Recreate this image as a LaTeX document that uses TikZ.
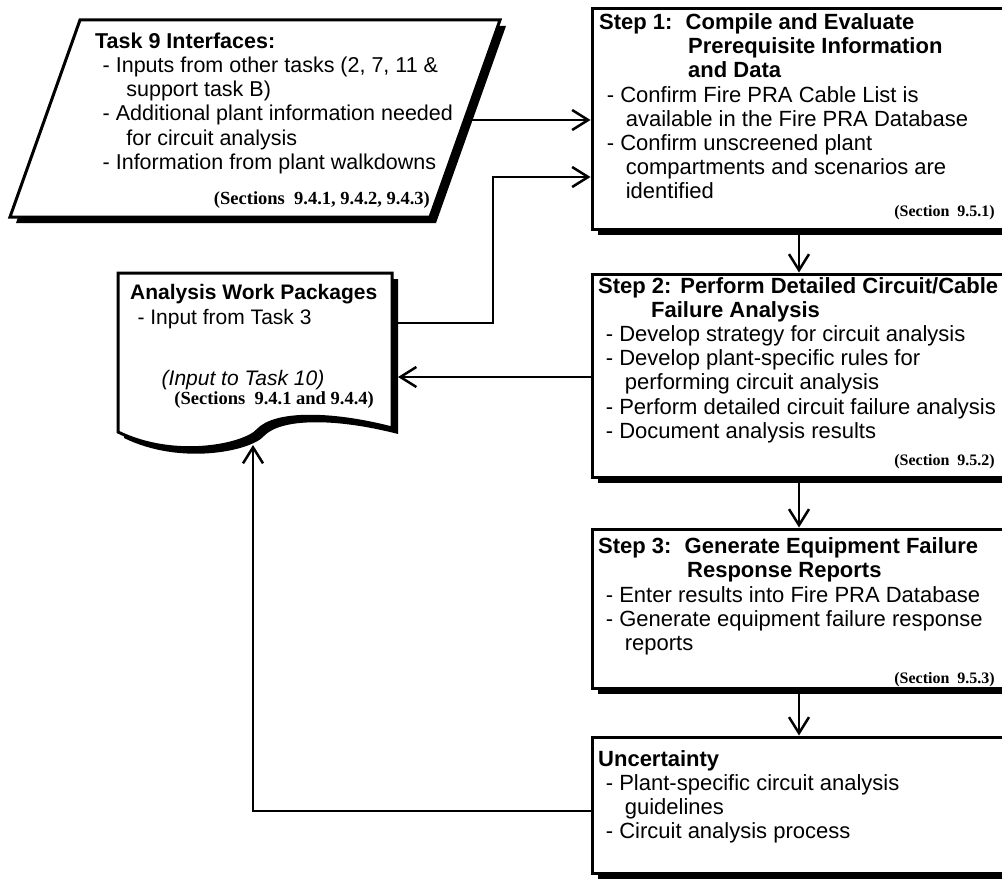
\documentclass[tikz,border=0pt]{standalone}
\usepackage{fontspec}
\setmainfont{Liberation Sans}
\newfontfamily\reffont{Liberation Serif}
\usetikzlibrary{arrows.meta,shadows}
\newcommand{\dashitem}{\hspace*{0.35em}-\ }
\newcommand{\contline}{\hspace*{0.6em}\phantom{-\ }}

\begin{document}
\begin{tikzpicture}[x=1pt,y=-1pt]
    \tikzset{% styles for boxes, texts and arrows
    shad/.style={drop shadow={shadow xshift=6pt,shadow yshift=-6pt,fill=black,opacity=1}},
    stepbox/.style={rectangle,draw,line width=3pt,fill=white,inner sep=0pt,shad},
    txt/.style={anchor=north west,inner sep=0pt,align=left,font=\fontsize{22}{24.2}\selectfont},
    sec/.style={anchor=east,inner sep=0pt,font=\reffont\bfseries\fontsize{16}{18}\selectfont},
    bigsec/.style={sec,font=\reffont\bfseries\fontsize{18.5}{20}\selectfont},
    arr/.style={line width=2.5pt,-{Straight Barb[length=16pt,width=20pt]}},
    }
    \useasboundingbox (0,0) rectangle (1002,880);
    \clip (0,0) rectangle (1002,880);

    % Input shapes
    \draw[line width=3pt,fill=white,shad] (80,20) -- (500,20) -- (430,217) -- (10,217) -- cycle;
    \coordinate (t9out) at (470,120);
    \draw[line width=3pt,fill=white,shad] (118,273) -- (392,273) -- (392,428)
        .. controls (330,412) and (275,412) .. (258,430)
        .. controls (245,445) and (175,460) .. (118,432) -- cycle;
    \coordinate (awpout) at (398,323);
    \coordinate (awpin) at (398,377);
    \coordinate (awpbot) at (253,445);

    % Step boxes
    \node[stepbox,minimum width=414pt,minimum height=220pt] (s1) at (799,119) {};
    \node[stepbox,minimum width=414pt,minimum height=203pt] (s2) at (799,375.5) {};
    \node[stepbox,minimum width=414pt,minimum height=159pt] (s3) at (799,608.5) {};
    \node[stepbox,minimum width=414pt,minimum height=136pt] (unc) at (799,805) {};

    % Texts
    \node[txt,font=\fontsize{21.5}{24.2}\selectfont] (t9txt) at (95,32.5) {\textbf{Task 9 Interfaces:}\\
        \dashitem Inputs from other tasks (2, 7, 11 \&\\
        \hspace*{1.45em}support task B)\\
        \dashitem Additional plant information needed\\
        \hspace*{1.45em}for circuit analysis\\
        \dashitem Information from plant walkdowns};
    \node[bigsec] (t9sec) at (430,200) {(Sections\ \ 9.4.1, 9.4.2, 9.4.3)};

    \node[txt,font=\fontsize{21}{24.2}\selectfont] (awptxt) at (130,284.5) {\textbf{Analysis Work Packages}\\
        \dashitem Input from Task 3\\[37pt]
        \hspace*{1.5em}\textit{(Input to Task 10)}};
    \node[bigsec] (awpsec) at (374,400) {(Sections\ \ 9.4.1 and 9.4.4)};

    \node[txt] (s1txt) at (599,13.3) {\textbf{Step 1:}\hspace{0.6em}\textbf{Compile and Evaluate}\\
        \hspace*{89pt}\textbf{Prerequisite Information}\\
        \hspace*{89pt}\textbf{and Data}\\
        \dashitem Confirm Fire PRA Cable List is\\
        \contline available in the Fire PRA Database\\
        \dashitem Confirm unscreened plant\\
        \contline compartments and scenarios are\\
        \contline identified};
    \node[sec] (s1sec) at (995,213) {(Section\ \ 9.5.1)};

    \node[txt] (s2txt) at (598,277) {\textbf{Step 2:}\hspace{0.4em}\textbf{Perform Detailed Circuit/Cable}\\
        \hspace*{53pt}\textbf{Failure Analysis}\\
        \dashitem Develop strategy for circuit analysis\\
        \dashitem Develop plant-specific rules for\\
        \contline performing circuit analysis\\
        \dashitem Perform detailed circuit failure analysis\\
        \dashitem Document analysis results};
    \node[sec] (s2sec) at (995,462) {(Section\ \ 9.5.2)};

    \node[txt] (s3txt) at (598,537.5) {\textbf{Step 3:}\hspace{0.6em}\textbf{Generate Equipment Failure}\\
        \hspace*{89pt}\textbf{Response Reports}\\
        \dashitem Enter results into Fire PRA Database\\
        \dashitem Generate equipment failure response\\
        \contline reports};
    \node[sec] (s3sec) at (995,680) {(Section\ \ 9.5.3)};

    \node[txt] (unctxt) at (598,750) {\textbf{Uncertainty}\\
        \dashitem Plant-specific circuit analysis\\
        \contline guidelines\\
        \dashitem Circuit analysis process};

    % Arrows
    \coordinate (j1) at (493,177);
    \coordinate (j2) at (253,811);
    \draw[arr] (t9out) -- (t9out -| s1.west);
    \draw[arr] (awpout) -| (j1) -- (j1 -| s1.west);
    \draw[arr] (s1) -- (s2);
    \draw[arr] (s2) -- (s3);
    \draw[arr] (s3) -- (unc);
    \draw[arr] (s2.west |- awpin) -- (awpin);
    \draw[arr] (unc.west |- j2) -- (j2) -- (awpbot);
\end{tikzpicture}
\end{document}
